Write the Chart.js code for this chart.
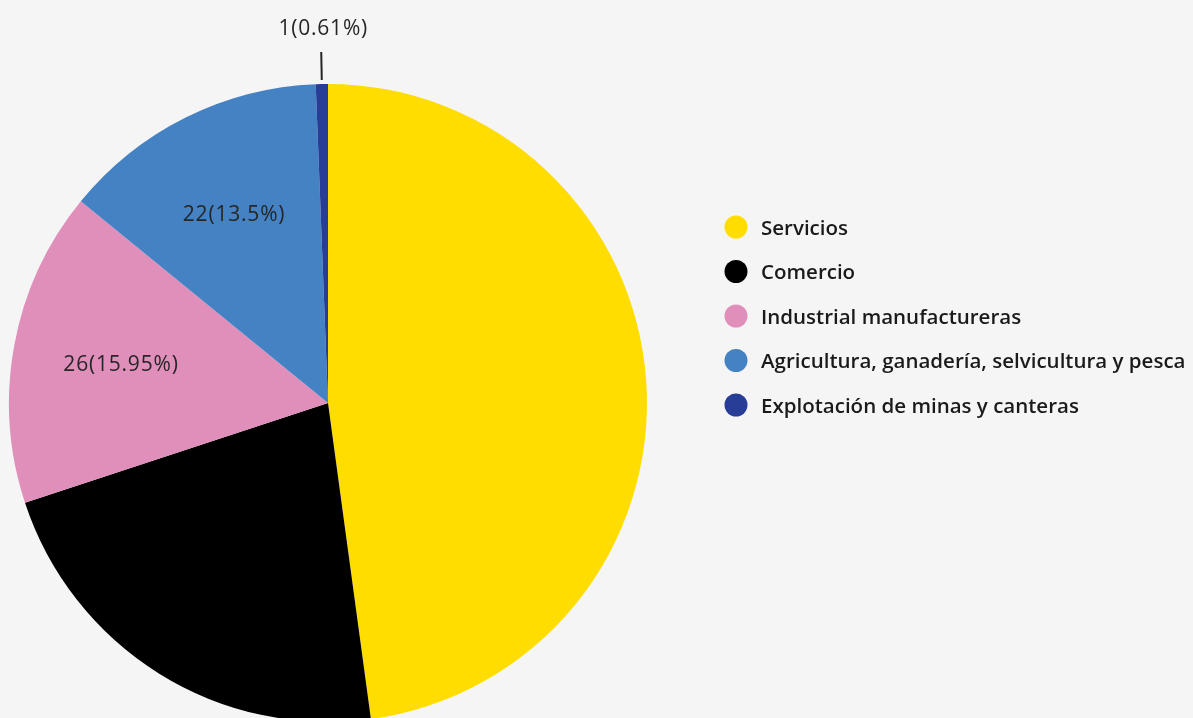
<!DOCTYPE html>
<html>
<head>
<meta charset="utf-8">
<script src="https://cdn.jsdelivr.net/npm/chart.js@4.4.0/dist/chart.umd.min.js"></script>
<style>
  html, body { margin: 0; padding: 0; background: #f5f5f5; overflow: hidden; width: 1193px; height: 718px; }
  #wrap { position: absolute; left: 0; top: 0; width: 1193px; height: 740px; }
</style>
</head>
<body>
<div id="wrap"><canvas id="c"></canvas></div>
<script>
const categories = ['Servicios', 'Comercio', 'Industrial manufactureras', 'Agricultura, ganadería, selvicultura y pesca', 'Explotación de minas y canteras'];
const values = [78, 36, 26, 22, 1];
const colors = ['#FFDD00', '#000000', '#E08FBB', '#4482C3', '#283E96'];
const labelShown = [false, false, true, true, true];

const total = values.reduce((a, b) => a + b, 0);
function fmtPct(v) {
  return String(parseFloat((v / total * 100).toFixed(2)));
}

const FONT = '"Open Sans", "Lato", sans-serif';

const labelPlugin = {
  id: 'sliceLabels',
  afterDatasetsDraw(chart) {
    const ctx = chart.ctx;
    const meta = chart.getDatasetMeta(0);
    ctx.save();
    ctx.font = '500 21px ' + FONT;
    try { ctx.letterSpacing = '0.8px'; } catch (e) {}
    ctx.fillStyle = '#262626';
    ctx.textAlign = 'center';
    ctx.textBaseline = 'middle';
    meta.data.forEach((arc, i) => {
      if (!labelShown[i]) return;
      const p = arc.getProps(['x', 'y', 'startAngle', 'endAngle', 'outerRadius'], true);
      const mid = (p.startAngle + p.endAngle) / 2;
      const text = values[i] + '(' + fmtPct(values[i]) + '%)';
      const share = values[i] / total;
      if (share < 0.05) {
        const r1 = p.outerRadius + 4, r2 = p.outerRadius + 32;
        ctx.strokeStyle = '#262626';
        ctx.lineWidth = 2;
        ctx.beginPath();
        ctx.moveTo(p.x + Math.cos(mid) * r1, p.y + Math.sin(mid) * r1);
        ctx.lineTo(p.x + Math.cos(mid) * r2, p.y + Math.sin(mid) * r2);
        ctx.stroke();
        ctx.fillText(text, p.x + Math.cos(mid) * r2 + 2, p.y + Math.sin(mid) * r2 - 23);
      } else {
        const r = p.outerRadius * 0.66;
        ctx.fillText(text, p.x + Math.cos(mid) * r, p.y + Math.sin(mid) * r);
      }
    });
    ctx.restore();
  }
};

const legendPlugin = {
  id: 'customLegend',
  afterDraw(chart) {
    const ctx = chart.ctx;
    const x0 = 736, y0 = 227, step = 44.5;
    ctx.save();
    ctx.font = '600 20.5px ' + FONT;
    ctx.textAlign = 'left';
    ctx.textBaseline = 'middle';
    chart.data.labels.forEach((lab, i) => {
      const y = y0 + i * step;
      ctx.fillStyle = chart.data.datasets[0].backgroundColor[i];
      ctx.beginPath();
      ctx.arc(x0, y, 11.5, 0, Math.PI * 2);
      ctx.fill();
      ctx.fillStyle = '#1a1a1a';
      ctx.fillText(lab, x0 + 25, y + 2);
    });
    ctx.restore();
  }
};

new Chart(document.getElementById('c'), {
  type: 'pie',
  data: {
    labels: categories,
    datasets: [{
      data: values,
      backgroundColor: colors,
      borderWidth: 0
    }]
  },
  options: {
    responsive: true,
    maintainAspectRatio: false,
    animation: false,
    layout: { padding: { left: 9, right: 546, top: 84, bottom: 18 } },
    plugins: {
      legend: { display: false },
      tooltip: { enabled: false }
    }
  },
  plugins: [labelPlugin, legendPlugin]
});
</script>
</body>
</html>
